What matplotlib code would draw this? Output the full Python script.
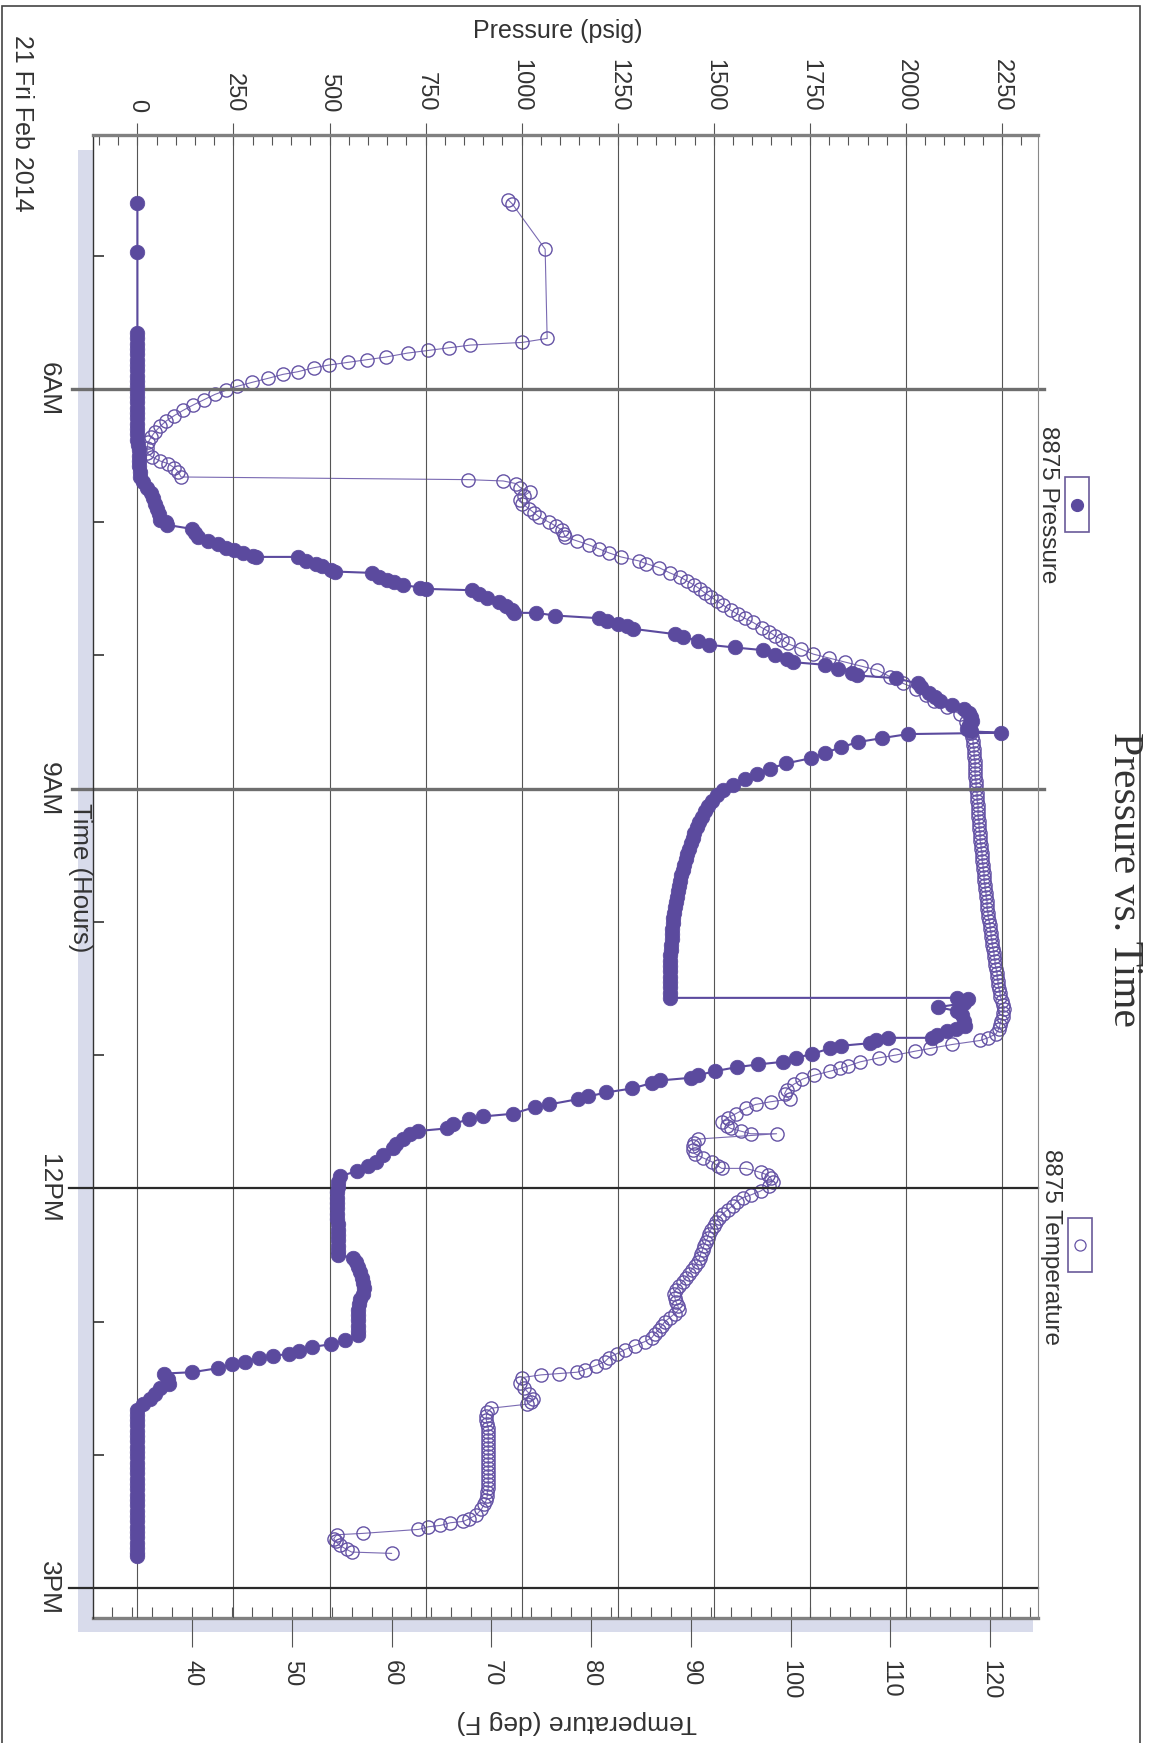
import matplotlib
matplotlib.use("Agg")
import matplotlib.pyplot as plt
from matplotlib.patches import Rectangle
from matplotlib.lines import Line2D
from matplotlib.ticker import MultipleLocator, FixedLocator

# ---- data: (time in hours, value) ----
# 8875 Pressure (psig)
pres_idle = [(4.60, 0), (4.97, 0), (5.58, 0), (5.62, 0), (5.66, 0), (5.70, 0), (5.74, 0),
             (5.78, 0), (5.82, 0), (5.86, 0), (5.90, 0), (5.94, 0), (5.98, 0), (6.02, 0),
             (6.06, 0), (6.10, 0), (6.14, 0), (6.18, 0), (6.22, 0), (6.26, 0), (6.30, 0),
             (6.34, 0), (6.38, 0), (6.42, 2), (6.46, 3), (6.50, 3), (6.54, 4), (6.58, 5),
             (6.62, 6), (6.66, 8)]
pres_rise = [(6.70, 15), (6.74, 25), (6.78, 35), (6.82, 40), (6.86, 45), (6.90, 50), (6.94, 55),
             (6.98, 60), (7.00, 75), (7.02, 78),
             (7.05, 142), (7.08, 150), (7.11, 159), (7.14, 185), (7.16, 209), (7.19, 230),
             (7.21, 251), (7.23, 275), (7.25, 300), (7.26, 308),
             (7.26, 418), (7.29, 440), (7.31, 465), (7.33, 480), (7.36, 505), (7.37, 515),
             (7.38, 610), (7.41, 630), (7.43, 650), (7.45, 668), (7.47, 690), (7.49, 735), (7.50, 751),
             (7.51, 870), (7.54, 890), (7.57, 910), (7.60, 940), (7.63, 960), (7.66, 975), (7.68, 980),
             (7.68, 1037), (7.70, 1087),
             (7.72, 1200), (7.74, 1221), (7.76, 1250), (7.78, 1275), (7.80, 1290),
             (7.84, 1400), (7.86, 1421), (7.89, 1460), (7.92, 1488),
             (7.94, 1554), (7.96, 1629), (8.00, 1660), (8.03, 1690), (8.05, 1705),
             (8.07, 1790), (8.10, 1822), (8.13, 1860), (8.15, 1872), (8.17, 1973), (8.21, 2030),
             (8.24, 2038), (8.28, 2060), (8.31, 2075), (8.34, 2089), (8.37, 2120), (8.40, 2150),
             (8.43, 2165), (8.46, 2170), (8.49, 2173), (8.52, 2165), (8.55, 2160), (8.57, 2170),
             (8.58, 2248)]
pres_hold = [(8.59, 2005), (8.62, 1938), (8.65, 1875), (8.69, 1830), (8.73, 1790), (8.77, 1754),
             (8.81, 1688), (8.85, 1645), (8.89, 1612), (8.93, 1580), (8.97, 1550), (9.01, 1525),
             (9.05, 1507), (9.09, 1494), (9.13, 1484), (9.17, 1476), (9.21, 1468), (9.25, 1461),
             (9.29, 1455), (9.33, 1449), (9.37, 1445), (9.41, 1440), (9.45, 1435), (9.49, 1431),
             (9.53, 1427), (9.57, 1423), (9.61, 1419), (9.65, 1415), (9.69, 1412), (9.73, 1409),
             (9.77, 1406), (9.81, 1404), (9.85, 1401), (9.89, 1399), (9.93, 1397), (9.97, 1395),
             (10.01, 1393), (10.05, 1392), (10.09, 1391), (10.13, 1390), (10.17, 1389), (10.21, 1388),
             (10.25, 1387), (10.29, 1387), (10.33, 1386), (10.37, 1386), (10.41, 1386), (10.45, 1385),
             (10.49, 1385), (10.53, 1385), (10.57, 1385)]
pres_drop = [(10.57, 2134), (10.58, 2162), (10.61, 2150), (10.64, 2084), (10.67, 2134), (10.70, 2145),
             (10.74, 2150), (10.78, 2153), (10.80, 2130), (10.82, 2106), (10.85, 2080), (10.87, 2067),
             (10.87, 1954), (10.89, 1921), (10.91, 1907), (10.93, 1830), (10.95, 1802), (10.99, 1756),
             (11.02, 1715), (11.05, 1680), (11.07, 1614), (11.09, 1560), (11.12, 1503), (11.15, 1460),
             (11.17, 1440), (11.19, 1360), (11.21, 1338), (11.25, 1287), (11.28, 1220), (11.31, 1173),
             (11.33, 1147), (11.37, 1071), (11.39, 1034), (11.44, 977), (11.46, 900), (11.48, 862),
             (11.52, 820), (11.55, 805), (11.57, 729), (11.59, 710), (11.63, 690), (11.67, 672),
             (11.70, 666), (11.75, 640), (11.80, 621), (11.83, 600), (11.87, 571), (11.91, 527)]
pres_step = [(11.95, 522), (11.99, 521), (12.03, 520), (12.07, 520), (12.11, 520), (12.15, 520),
             (12.19, 520), (12.23, 520), (12.27, 521), (12.31, 521), (12.35, 521), (12.39, 522),
             (12.43, 522), (12.47, 522), (12.50, 522),
             (12.52, 560), (12.55, 570), (12.59, 575), (12.63, 580), (12.67, 584), (12.71, 587),
             (12.75, 590), (12.79, 586), (12.83, 580), (12.87, 576), (12.91, 575), (12.95, 575),
             (12.99, 575), (13.03, 575), (13.07, 575), (13.10, 575)]
pres_vent = [(13.14, 539), (13.17, 504), (13.19, 455), (13.22, 420), (13.24, 395), (13.26, 353),
             (13.27, 316), (13.30, 281), (13.32, 245), (13.35, 209), (13.38, 143), (13.39, 70),
             (13.43, 80), (13.47, 83), (13.50, 60), (13.54, 45), (13.58, 34), (13.62, 15),
             (13.66, 0), (13.70, 0), (13.74, 0), (13.78, 0), (13.82, 0), (13.86, 0), (13.90, 0),
             (13.94, 0), (13.98, 0), (14.02, 0), (14.06, 0), (14.10, 0), (14.14, 0), (14.18, 0),
             (14.22, 0), (14.26, 0), (14.30, 0), (14.34, 0), (14.38, 0), (14.42, 0), (14.46, 0),
             (14.50, 0), (14.54, 0), (14.58, 0), (14.62, 0), (14.66, 0), (14.70, 0), (14.74, 0),
             (14.76, 0)]

# 8875 Temperature (deg F)
temp_start = [(4.58, 71.7), (4.61, 72.1), (4.95, 75.4), (5.62, 75.6), (5.65, 73.1), (5.67, 67.9),
              (5.69, 65.8), (5.71, 63.7), (5.73, 61.6), (5.76, 59.4), (5.78, 57.5), (5.80, 55.6),
              (5.82, 53.7), (5.84, 52.2), (5.87, 50.6), (5.89, 49.1), (5.92, 47.6), (5.95, 46.0),
              (5.98, 44.5), (6.01, 43.4), (6.04, 42.3), (6.08, 41.2), (6.12, 40.1), (6.16, 39.1),
              (6.20, 38.2), (6.24, 37.4), (6.28, 36.8), (6.32, 36.3), (6.36, 35.9), (6.40, 35.6),
              (6.44, 35.5), (6.48, 35.5), (6.51, 36.0), (6.54, 36.8), (6.56, 37.6), (6.59, 38.2),
              (6.62, 38.6), (6.66, 38.9)]
temp_rise = [(6.68, 67.7), (6.69, 71.2), (6.71, 72.5), (6.74, 72.9), (6.77, 73.9), (6.80, 73.3),
             (6.83, 72.9), (6.86, 73.1), (6.90, 73.8), (6.93, 74.3), (6.96, 74.8), (7.00, 75.8),
             (7.03, 76.5), (7.06, 77.1), (7.09, 77.3), (7.11, 77.4), (7.14, 78.6), (7.17, 79.8),
             (7.20, 80.8), (7.23, 81.8), (7.26, 83.0), (7.29, 84.8), (7.31, 85.5), (7.34, 86.8),
             (7.38, 87.9), (7.41, 88.9), (7.44, 89.6), (7.47, 90.3), (7.50, 90.9), (7.53, 91.4),
             (7.56, 92.0), (7.59, 92.6), (7.62, 93.2), (7.66, 94.0), (7.69, 94.7), (7.72, 95.4),
             (7.75, 96.2), (7.79, 97.1), (7.82, 97.8), (7.85, 98.4), (7.88, 99.1), (7.91, 99.7),
             (7.95, 101.0), (7.99, 102.3), (8.02, 103.9), (8.05, 105.5), (8.08, 107.1), (8.11, 108.7),
             (8.16, 110.0), (8.21, 111.3), (8.25, 112.6), (8.30, 113.6), (8.34, 114.4), (8.39, 115.7),
             (8.44, 117.0), (8.50, 117.6), (8.55, 118.0)]
temp_hold = [(8.58, 118.1), (8.61, 118.2), (8.64, 118.3), (8.67, 118.3), (8.70, 118.4), (8.73, 118.4),
             (8.76, 118.4), (8.79, 118.5), (8.82, 118.5), (8.85, 118.5), (8.88, 118.5), (8.91, 118.5),
             (8.94, 118.6), (8.97, 118.6), (9.00, 118.6), (9.03, 118.7), (9.06, 118.7), (9.09, 118.7),
             (9.12, 118.8), (9.15, 118.8), (9.18, 118.8), (9.21, 118.8), (9.24, 118.9), (9.27, 118.9),
             (9.30, 118.9), (9.33, 119.0), (9.36, 119.0), (9.39, 119.0), (9.42, 119.1), (9.45, 119.1),
             (9.48, 119.2), (9.51, 119.2), (9.54, 119.2), (9.57, 119.3), (9.60, 119.3), (9.63, 119.4),
             (9.66, 119.4), (9.69, 119.4), (9.72, 119.5), (9.75, 119.5), (9.78, 119.6), (9.81, 119.6),
             (9.84, 119.7), (9.87, 119.7), (9.90, 119.7), (9.93, 119.8), (9.96, 119.8), (9.99, 119.9),
             (10.02, 120.0), (10.05, 120.0), (10.08, 120.1), (10.11, 120.1), (10.14, 120.2),
             (10.17, 120.2), (10.20, 120.3), (10.23, 120.4), (10.26, 120.4), (10.29, 120.5),
             (10.32, 120.5), (10.35, 120.6), (10.38, 120.7), (10.41, 120.7), (10.44, 120.8),
             (10.47, 120.8), (10.50, 120.9), (10.53, 121.0), (10.56, 121.0), (10.59, 121.2),
             (10.62, 121.3), (10.65, 121.4), (10.68, 121.3), (10.71, 121.3), (10.74, 121.1),
             (10.77, 121.0), (10.80, 120.9), (10.84, 120.6)]
temp_fall = [(10.87, 119.8), (10.89, 119.0), (10.92, 116.2), (10.95, 114.0), (10.97, 112.5),
             (11.00, 110.5), (11.02, 108.9), (11.05, 107.0), (11.08, 105.8), (11.10, 105.0),
             (11.12, 104.0), (11.15, 102.4), (11.18, 101.2), (11.22, 100.3), (11.26, 99.6),
             (11.29, 99.4), (11.33, 99.9), (11.35, 98.0), (11.37, 96.5), (11.40, 95.5), (11.44, 94.5),
             (11.47, 93.7), (11.50, 93.1), (11.53, 93.6), (11.55, 94.0), (11.57, 95.0), (11.59, 96.0),
             (11.59, 98.6), (11.63, 90.7), (11.66, 90.3), (11.68, 90.2), (11.71, 90.2), (11.74, 90.4),
             (11.77, 91.2), (11.80, 92.1), (11.83, 92.7), (11.85, 93.1), (11.85, 95.5), (11.88, 97.0),
             (11.90, 97.7), (11.92, 98.0), (11.95, 98.2), (11.98, 97.8), (12.02, 97.0), (12.05, 96.0),
             (12.07, 95.2), (12.10, 94.6), (12.13, 94.2), (12.16, 93.7), (12.19, 93.2), (12.22, 92.8),
             (12.25, 92.5), (12.28, 92.3), (12.31, 92.0), (12.34, 91.8), (12.37, 91.7), (12.40, 91.5),
             (12.43, 91.3), (12.46, 91.2), (12.49, 91.0), (12.52, 90.9), (12.55, 90.7), (12.58, 90.4),
             (12.61, 90.1), (12.64, 89.8), (12.67, 89.5), (12.70, 89.2), (12.73, 88.8), (12.76, 88.5),
             (12.79, 88.3), (12.82, 88.4), (12.85, 88.5), (12.88, 88.7), (12.91, 88.8), (12.94, 88.4),
             (12.97, 87.9), (13.00, 87.4), (13.03, 87.1), (13.06, 86.8), (13.09, 86.4), (13.12, 86.1),
             (13.15, 85.4), (13.18, 84.4), (13.21, 83.4), (13.24, 82.6), (13.27, 81.8), (13.30, 81.4),
             (13.33, 80.5), (13.36, 79.4), (13.38, 78.6), (13.39, 76.8), (13.40, 75.0), (13.42, 73.1),
             (13.46, 72.9), (13.50, 73.3), (13.54, 73.8), (13.58, 74.2), (13.60, 74.0), (13.62, 73.6)]
temp_end = [(13.65, 70.0), (13.68, 69.6), (13.71, 69.5), (13.74, 69.5), (13.77, 69.6), (13.80, 69.7),
            (13.83, 69.7), (13.86, 69.7), (13.89, 69.7), (13.92, 69.7), (13.95, 69.7), (13.98, 69.7),
            (14.01, 69.7), (14.04, 69.7), (14.07, 69.7), (14.10, 69.7), (14.13, 69.7), (14.16, 69.7),
            (14.19, 69.7), (14.22, 69.7), (14.25, 69.7), (14.28, 69.6), (14.31, 69.6), (14.34, 69.5),
            (14.37, 69.3), (14.41, 69.0), (14.45, 68.5), (14.48, 67.8), (14.50, 67.2), (14.51, 65.9),
            (14.53, 64.9), (14.54, 63.7), (14.56, 62.7), (14.59, 57.1), (14.60, 54.5), (14.63, 54.2),
            (14.65, 54.4), (14.68, 54.8), (14.71, 55.5), (14.73, 56.0), (14.74, 60.0)]

hour_ticks = [6, 9, 12, 15]
hour_labels = ["6AM", "9AM", "12PM", "3PM"]
minor_hours = [5, 7, 8, 10, 11, 13, 14]
pres_ticks = [0, 250, 500, 750, 1000, 1250, 1500, 1750, 2000, 2250]
temp_ticks = [40, 50, 60, 70, 80, 90, 100, 110, 120]

pres_pts = pres_idle + pres_rise + pres_hold + pres_drop + pres_step + pres_vent
temp_pts = temp_start + temp_rise + temp_hold + temp_fall + temp_end
p_time, p_psi = zip(*pres_pts)
t_time, t_degf = zip(*temp_pts)

# ---- figure, drawn already turned on its side ----
W, H = 1157, 1743
def fx(x):
    return x / W
def fy(y):
    return 1 - y / H

plt.rcParams['font.family'] = ['Liberation Sans', 'DejaVu Sans']
fig = plt.figure(figsize=(W / 100, H / 100), dpi=100)
fig.patch.set_facecolor('white')

ax = fig.add_axes([fx(93), fy(1618), (1038 - 93) / W, (1618 - 135) / H])
ax2 = ax.twiny()
ax.set_zorder(ax2.get_zorder() + 1)
ax.patch.set_visible(False)

purple = '#5b4a9e'

# temperature on the bottom axis
ax2.plot(t_degf, t_time, '-', color='#7a6ab2', lw=0.8, marker='o', ms=9.5, mfc='none',
         mec='#6553a5', mew=1.0)
ax2.set_xlim(30.07, 124.81)
ax2.xaxis.set_ticks_position('bottom')
ax2.xaxis.set_major_locator(FixedLocator(temp_ticks))
ax2.xaxis.set_minor_locator(MultipleLocator(2))
ax2.xaxis.remove_overlapping_locs = False
ax2.tick_params(axis='x', which='major', bottom=True, top=False, labelbottom=True, labeltop=False,
                direction='out', length=21, width=0.8, color='#555', pad=9, labelsize=17,
                labelcolor='#333', labelrotation=-90)
ax2.tick_params(axis='x', which='minor', bottom=True, top=False, direction='in', length=8,
                width=0.8, color='#555')
for side in ['top', 'left', 'right']:
    ax2.spines[side].set_visible(False)
ax2.spines['bottom'].set_color('#808080')
ax2.spines['bottom'].set_linewidth(2.4)

# pressure on the top axis
ax.grid(axis='x', color='#555', lw=0.8)
ax.set_axisbelow(True)
ax.plot(p_psi, p_time, '-', color=purple, lw=1.5, marker='o', ms=10.5, mfc=purple, mec=purple,
        mew=0.5, zorder=3)
ax.set_xlim(-115.5, 2343.5)
ax.set_ylim(15.225, 4.093)
ax.xaxis.set_ticks_position('top')
ax.xaxis.set_major_locator(FixedLocator(pres_ticks))
ax.xaxis.set_minor_locator(MultipleLocator(50))
ax.xaxis.remove_overlapping_locs = False
ax.tick_params(axis='x', which='major', top=True, bottom=False, labeltop=True, labelbottom=False,
               direction='out', length=8.6, width=0.8, color='#555', pad=8, labelsize=17,
               labelcolor='#333', labelrotation=-90)
ax.tick_params(axis='x', which='minor', top=True, bottom=False, direction='in', length=7.5,
               width=0.8, color='#555')

ax.set_yticks(hour_ticks)
ax.set_yticklabels(hour_labels, rotation=-90, va='center')
ax.yaxis.set_minor_locator(FixedLocator(minor_hours))
ax.tick_params(axis='y', which='major', left=True, right=False, length=0, pad=23, labelsize=19,
               labelcolor='#333')
ax.tick_params(axis='y', which='minor', left=True, right=False, direction='in', length=8,
               width=1.2, color='#333')

ax.spines['bottom'].set_visible(False)
ax.spines['top'].set_color('#808080')
ax.spines['top'].set_linewidth(2.4)
ax.spines['left'].set_color('#333')
ax.spines['left'].set_linewidth(1.0)
ax.spines['right'].set_color('#888')
ax.spines['right'].set_linewidth(0.8)

# hour lines across the plot
for h in hour_ticks:
    if h < 12:
        ax.axhline(h, xmin=-0.022, xmax=1.006, clip_on=False, color='#6e6e6e', lw=2.4, zorder=1.5)
    else:
        ax.axhline(h, xmin=-0.025, xmax=1.0, clip_on=False, color='#2a2a2a', lw=1.6, zorder=1.5)

# shadow bands at left and bottom of the plot frame
fig.add_artist(Rectangle((fx(78), fy(1632)), 15 / W, (1632 - 150) / H, transform=fig.transFigure,
                         fc='#d8dbeb', ec='none', zorder=-1))
fig.add_artist(Rectangle((fx(78), fy(1632)), (1033 - 78) / W, 14 / H, transform=fig.transFigure,
                         fc='#d8dbeb', ec='none', zorder=-1))

# texts
fig.text(fx(558), fy(31), "Pressure (psig)", ha='center', va='center', fontsize=18, color='#333')
fig.text(fx(577), fy(1722), "Temperature (deg F)", ha='center', va='center', fontsize=19,
         color='#333', rotation=180)
fig.text(fx(80), fy(878), "Time (Hours)", ha='center', va='center', fontsize=18.5, color='#333',
         rotation=-90)
fig.text(fx(22), fy(123), "21 Fri Feb 2014", ha='center', va='center', fontsize=18, color='#333',
         rotation=-90)
fig.text(fx(1124), fy(879), "Pressure vs. Time", ha='center', va='center', fontsize=30,
         color='#333', rotation=-90, family=['Liberation Serif', 'DejaVu Serif'])
fig.text(fx(1048), fy(505), "8875 Pressure", ha='center', va='center', fontsize=17.5, color='#333',
         rotation=-90)
fig.text(fx(1051), fy(1247), "8875 Temperature", ha='center', va='center', fontsize=17.5,
         color='#333', rotation=-90)

# legend swatches
fig.add_artist(Rectangle((fx(1065), fy(532)), 24 / W, 55 / H, transform=fig.transFigure,
                         fill=False, ec='#6a5a9a', lw=1.2))
fig.add_artist(Line2D([fx(1077)], [fy(505)], transform=fig.transFigure, marker='o', ms=8.5,
                      color=purple, ls='none'))
fig.add_artist(Rectangle((fx(1068), fy(1272)), 24 / W, 54 / H, transform=fig.transFigure,
                         fill=False, ec='#6a5a9a', lw=1.2))
fig.add_artist(Line2D([fx(1080)], [fy(1245)], transform=fig.transFigure, marker='o', ms=8,
                      mfc='none', mec='#6553a5', mew=0.9, ls='none'))

# outer border (its bottom edge runs off the page)
fig.add_artist(Rectangle((fx(2), fy(1760)), (1140 - 2) / W, (1760 - 6) / H,
                         transform=fig.transFigure, fill=False, ec='#444', lw=1.2))

fig.savefig('out.png', dpi=100)
